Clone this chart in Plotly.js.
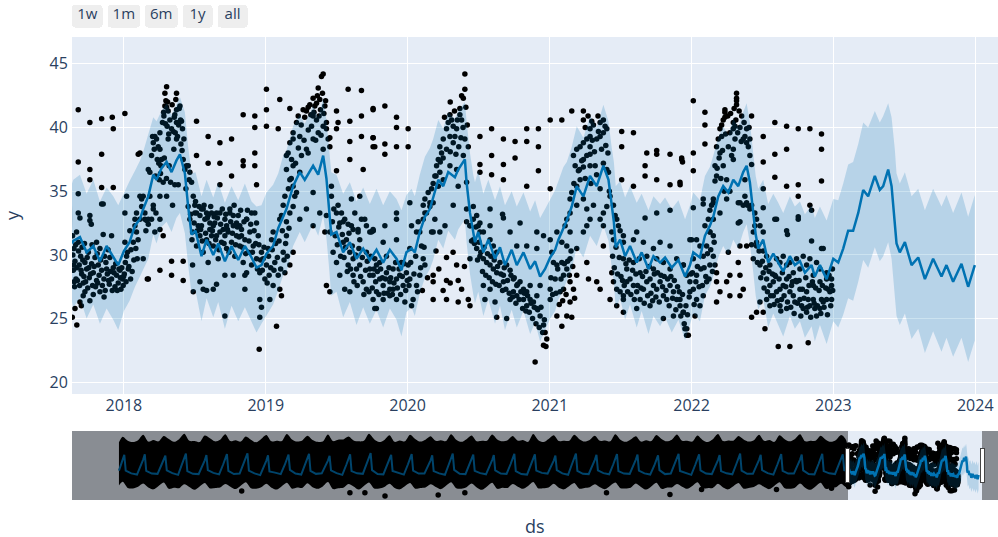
<!DOCTYPE html>
<html>
<head>
<meta charset="utf-8">
<script src="https://cdn.plot.ly/plotly-3.0.1.min.js"></script>
<style>html,body{margin:0;padding:0;background:#fff;}#chart{width:998px;height:537px;}</style>
</head>
<body>
<div id="chart"></div>
<script>
// ---------- DATA (time as decimal year) ----------
// Observations [t, y]
const obs_2017 = [[2017.678,41.4],[2017.760,40.4],[2017.843,40.7],[2017.918,40.8],[2017.925,39.9],[2017.678,37.3],[2017.760,36.7],[2017.760,35.9],[2017.678,34.8],[2017.843,37.9],[2017.843,35.3],[2017.925,35.3],[2017.678,33.3],[2017.760,33.1],[2017.760,32.7],[2017.854,34.0],
[2017.638,31.5],[2017.648,30.5],[2017.655,29.5],[2017.643,28.8],[2017.662,28.1],[2017.652,27.5],[2017.655,25.8],[2017.636,25.1],[2017.690,32.9],[2017.678,31.0],[2017.685,29.2],[2017.695,29.9],[2017.702,28.5],[2017.713,27.8],[2017.713,26.8],[2017.725,29.4],[2017.737,28.9],[2017.749,30.2],[2017.756,28.2],[2017.770,32.4],[2017.772,29.3],[2017.784,26.9],[2017.784,28.6],[2017.796,29.8],[2017.807,28.0],[2017.819,29.2],[2017.831,30.5],[2017.843,34.0],[2017.843,28.8],[2017.854,31.6],[2017.859,28.1],[2017.873,29.4],[2017.883,28.5],[2017.897,27.7],[2017.901,29.8],[2017.913,31.5],[2017.913,28.1],[2017.925,29.0],[2017.937,27.5],[2017.948,28.4],[2017.960,27.8],[2017.972,28.8],[2017.979,27.3],[2017.991,28.1],[2017.995,27.6],[2017.725,27.1],[2017.831,27.1],[2017.690,26.3],[2017.666,31.8],[2017.807,31.0],
[2017.640,30.0],[2017.645,29.2],[2017.650,27.9],[2017.660,30.8],[2017.668,29.0],[2017.672,28.0],[2017.680,30.3],[2017.688,27.6],[2017.698,28.8],[2017.705,30.6],[2017.710,29.6],[2017.718,28.3],[2017.722,30.9],[2017.730,27.9],[2017.741,29.8],[2017.745,27.4],[2017.752,29.0],[2017.765,28.5],[2017.775,30.8],[2017.779,27.6],[2017.790,29.1],[2017.800,27.5],[2017.812,30.1],[2017.815,27.8],[2017.825,28.4],[2017.836,29.6],[2017.848,27.6],[2017.863,29.9],[2017.868,27.2],[2017.878,28.9],[2017.888,30.4],[2017.892,28.0],[2017.906,28.7],[2017.918,27.2],[2017.930,28.6],[2017.942,29.3],[2017.953,27.2],[2017.965,28.9],[2017.975,28.2],[2017.985,29.0],[2017.998,28.3],[2017.700,26.0],[2017.760,26.4],[2017.860,26.7],[2017.668,24.5]];

const obs_2018 = [[2018.007,31.0],[2018.019,29.9],[2018.031,28.9],[2018.042,31.9],[2018.047,28.1],[2018.066,31.0],[2018.078,32.8],[2018.089,31.8],[2018.094,29.7],[2018.113,32.8],[2018.125,33.8],[2018.136,29.7],[2018.165,28.1],[2018.172,32.8],
[2018.003,28.5],[2018.010,29.4],[2018.015,27.9],[2018.025,30.2],[2018.035,29.1],[2018.050,30.4],[2018.058,28.7],[2018.070,29.6],[2018.084,30.5],[2018.100,31.2],
[2018.007,41.1],[2018.019,34.6],[2018.007,33.3],[2018.078,32.3],[2018.089,33.3],[2018.101,37.9],[2018.113,38.0],[2018.125,34.4],[2018.136,34.6],[2018.148,33.3],[2018.148,32.8],[2018.160,32.7],[2018.172,36.7],[2018.172,32.4],
[2018.183,36.5],[2018.195,37.8],[2018.202,39.3],[2018.207,38.8],[2018.207,33.9],[2018.214,38.3],[2018.218,39.3],[2018.226,33.3],[2018.230,39.1],[2018.235,37.5],[2018.242,38.5],[2018.249,35.9],[2018.254,38.3],[2018.254,39.6],[2018.254,32.8],[2018.261,37.0],[2018.265,37.5],[2018.272,40.4],[2018.277,35.7],[2018.277,31.5],[2018.282,40.9],[2018.289,42.7],[2018.289,41.7],[2018.296,42.1],[2018.301,43.2],[2018.301,41.6],[2018.305,40.1],[2018.312,41.3],[2018.312,39.1],[2018.319,37.0],[2018.324,40.6],[2018.329,35.7],[2018.336,39.9],[2018.343,33.9],[2018.348,39.7],[2018.352,38.3],[2018.359,35.5],[2018.359,41.0],[2018.366,42.2],[2018.371,42.7],[2018.371,41.4],[2018.371,40.4],[2018.371,39.1],[2018.378,39.3],[2018.383,35.5],[2018.390,41.5],[2018.395,41.7],[2018.399,40.6],[2018.406,40.5],[2018.413,39.9],[2018.418,37.5],[2018.423,39.1],[2018.430,36.7],[2018.437,35.2],[2018.441,37.0],[2018.453,37.0],[2018.460,35.9],[2018.465,36.5],
[2018.280,41.2],[2018.293,40.3],[2018.308,42.0],[2018.316,39.5],[2018.340,41.8],[2018.355,40.8],[2018.362,39.6],[2018.386,40.2],[2018.402,38.7],[2018.410,38.2],[2018.246,37.2],[2018.222,36.2],[2018.258,36.4],[2018.285,37.6],[2018.300,36.0],
[2018.113,34.6],[2018.155,31.9],[2018.183,34.6],[2018.195,32.8],[2018.218,31.8],[2018.254,34.6],[2018.301,34.6],[2018.207,33.6],[2018.254,32.0],[2018.254,28.8],[2018.336,29.5],[2018.336,28.4],[2018.172,28.1],[2018.418,29.5],[2018.418,28.0],
[2018.512,40.5],[2018.594,39.3],[2018.677,38.8],[2018.759,39.1],[2018.759,36.2],[2018.841,41.0],[2018.841,37.4],[2018.841,37.0],[2018.923,40.9],[2018.923,40.0],[2018.923,38.0],[2018.923,37.0],[2018.935,35.5],[2018.677,37.2],[2018.677,35.5],[2018.594,37.2],[2018.512,37.8],[2018.594,33.1],
[2018.477,35.7],[2018.489,34.6],[2018.500,33.9],[2018.512,33.3],[2018.536,33.1],[2018.559,33.6],[2018.583,33.3],[2018.606,32.5],[2018.630,32.3],[2018.653,33.3],[2018.677,31.8],[2018.724,32.3],[2018.747,33.3],[2018.771,33.1],[2018.794,32.5],[2018.817,32.3],[2018.865,32.8],[2018.900,33.3],[2018.935,32.5],[2018.547,32.3],[2018.618,31.5],[2018.712,31.5],[2018.829,31.5],
[2018.453,33.8],[2018.465,32.8],[2018.484,31.8],[2018.500,33.3],[2018.512,30.7],[2018.524,32.3],[2018.536,31.5],[2018.547,33.6],[2018.559,30.2],[2018.571,32.8],[2018.583,31.2],[2018.594,29.4],[2018.606,32.0],[2018.618,33.3],[2018.630,30.7],[2018.641,32.5],[2018.653,31.5],[2018.665,29.7],[2018.677,33.3],[2018.688,31.0],[2018.700,32.0],[2018.712,32.8],[2018.724,30.5],[2018.735,31.8],[2018.747,33.6],[2018.759,31.0],[2018.771,32.3],[2018.782,29.9],[2018.794,31.5],[2018.806,33.1],[2018.817,30.7],[2018.829,32.0],[2018.841,29.4],[2018.853,31.2],[2018.865,32.8],[2018.876,30.2],[2018.888,31.8],[2018.900,29.2],[2018.912,30.7],[2018.923,33.3],[2018.935,29.7],[2018.947,31.5],[2018.958,28.6],[2018.970,30.2],[2018.484,29.2],[2018.536,27.9],[2018.489,27.1],[2018.559,27.3],[2018.583,27.2],[2018.630,27.3],[2018.653,27.7],[2018.712,25.2],[2018.712,28.4],[2018.771,28.4],[2018.853,28.4],[2018.853,27.3],[2018.865,28.6],[2018.958,26.5],[2018.958,25.1],[2018.954,22.6],[2018.982,29.7],[2018.994,28.1],[2018.970,25.9],
[2018.470,33.2],[2018.480,31.2],[2018.495,32.5],[2018.505,34.2],[2018.518,31.9],[2018.530,33.8],[2018.541,32.0],[2018.552,31.1],[2018.565,33.9],[2018.576,31.7],[2018.588,32.9],[2018.600,30.9],[2018.612,33.8],[2018.624,31.9],[2018.636,33.0],[2018.647,31.2],[2018.659,32.9],[2018.670,30.4],[2018.682,32.4],[2018.694,33.6],[2018.706,30.9],[2018.718,33.2],[2018.730,32.0],[2018.741,30.2],[2018.753,32.6],[2018.765,31.7],[2018.777,33.9],[2018.788,30.8],[2018.800,32.2],[2018.812,31.4],[2018.823,33.5],[2018.835,30.6],[2018.847,32.6],[2018.859,30.1],[2018.871,33.5],[2018.882,31.1],[2018.894,32.4],[2018.906,30.2],[2018.918,31.9],[2018.929,30.9],[2018.941,28.9],[2018.952,30.8],[2018.964,29.6],[2018.976,28.8],[2018.988,30.6]];

const obs_2019 = [[2019.005,29.2],[2019.017,30.5],[2019.024,28.4],[2019.029,26.5],[2019.041,31.2],[2019.052,27.6],[2019.064,29.4],[2019.076,24.4],[2019.088,28.4],[2019.099,27.3],[2019.111,26.8],[2019.123,30.2],[2019.135,28.6],[2019.146,31.5],[2019.170,29.2],[2019.193,30.2],[2019.052,31.8],[2019.099,32.8],[2019.170,33.3],
[2019.010,27.8],[2019.020,29.9],[2019.035,29.0],[2019.046,30.4],[2019.058,28.8],[2019.070,30.9],[2019.082,29.8],[2019.094,31.1],[2019.105,28.9],[2019.117,31.9],[2019.129,29.6],[2019.140,30.9],[2019.152,29.9],[2019.164,32.1],
[2019.005,43.0],[2019.005,41.4],[2019.005,40.1],[2019.099,42.2],[2019.088,39.9],[2019.170,41.5],
[2019.111,33.1],[2019.123,33.9],[2019.135,34.6],[2019.146,32.6],[2019.146,36.7],[2019.146,37.8],[2019.158,38.0],[2019.170,35.9],[2019.170,38.8],[2019.182,37.5],[2019.193,35.4],[2019.193,37.0],[2019.193,39.1],[2019.193,39.6],[2019.205,34.6],[2019.217,34.9],[2019.217,40.4],[2019.229,40.9],[2019.240,36.5],[2019.240,39.3],[2019.252,37.8],[2019.264,41.4],[2019.275,40.8],[2019.287,41.3],[2019.287,38.3],[2019.299,41.6],[2019.299,38.0],[2019.311,41.8],[2019.323,40.1],[2019.334,42.3],[2019.334,40.9],[2019.334,39.1],[2019.334,34.9],[2019.346,41.7],[2019.358,41.9],[2019.358,40.6],[2019.370,43.1],[2019.370,39.6],[2019.381,42.2],[2019.386,41.4],[2019.393,44.0],[2019.400,42.7],[2019.405,44.2],[2019.405,40.1],[2019.405,38.3],[2019.417,41.7],[2019.428,40.4],[2019.428,39.9],[2019.440,39.1],[2019.452,39.2],[2019.452,38.5],
[2019.300,39.8],[2019.318,41.0],[2019.340,41.2],[2019.352,39.0],[2019.364,42.5],[2019.376,40.9],[2019.390,39.4],[2019.410,41.1],[2019.422,42.1],[2019.270,39.0],[2019.250,40.2],[2019.230,38.4],[2019.210,37.2],[2019.180,36.0],[2019.160,35.2],
[2019.193,33.8],[2019.240,32.8],[2019.287,33.6],[2019.334,32.3],[2019.381,33.3],[2019.417,31.8],
[2019.499,41.3],[2019.510,40.4],[2019.499,39.9],[2019.499,36.6],[2019.581,43.0],[2019.593,40.5],[2019.593,38.9],[2019.593,37.5],[2019.675,42.9],[2019.675,40.9],[2019.675,39.3],[2019.687,36.7],[2019.757,41.4],[2019.757,39.2],[2019.769,38.5],
[2019.463,35.4],[2019.463,34.6],[2019.510,33.9],[2019.534,33.3],[2019.546,32.6],[2019.581,32.4],[2019.604,32.3],[2019.616,32.0],[2019.651,31.8],[2019.675,32.8],[2019.710,32.3],[2019.757,31.9],[2019.604,34.4],[2019.663,34.6],
[2019.428,33.1],[2019.452,31.8],[2019.475,30.2],[2019.499,33.3],[2019.499,29.4],[2019.522,32.5],[2019.522,28.4],[2019.546,31.0],[2019.557,27.3],[2019.569,31.2],[2019.581,29.2],[2019.593,30.2],[2019.593,27.1],[2019.616,29.7],[2019.616,28.4],[2019.640,28.9],[2019.651,32.0],[2019.663,29.2],[2019.663,31.2],[2019.687,27.9],[2019.710,27.3],[2019.710,30.2],[2019.734,28.4],[2019.745,31.8],[2019.757,26.5],[2019.769,29.7],[2019.780,25.8],[2019.452,27.1],[2019.428,27.6],[2019.557,32.8],[2019.628,33.3],[2019.698,32.8],
[2019.470,32.6],[2019.480,33.6],[2019.490,31.5],[2019.505,30.8],[2019.515,32.2],[2019.528,29.9],[2019.540,31.6],[2019.552,29.8],[2019.563,30.6],[2019.575,28.7],[2019.587,31.7],[2019.598,28.9],[2019.610,30.7],[2019.622,27.9],[2019.634,30.0],[2019.645,27.6],[2019.657,30.5],[2019.669,28.3],[2019.681,29.8],[2019.692,26.9],[2019.704,28.8],[2019.716,29.5],[2019.728,27.1],[2019.740,29.9],[2019.751,27.4],[2019.763,28.9],[2019.775,27.9],[2019.787,28.7],[2019.798,26.9],[2019.810,28.9],[2019.822,28.2],[2019.834,27.0],[2019.845,28.1],[2019.857,27.0],[2019.869,29.0],[2019.881,28.2],[2019.893,26.9],[2019.904,27.8],[2019.916,29.4],[2019.928,27.4],[2019.940,28.9],[2019.951,26.9],[2019.963,28.3],[2019.975,29.3],[2019.987,27.2],[2019.998,28.0],
[2019.734,28.9],[2019.757,28.4],[2019.781,29.2],[2019.804,28.1],[2019.828,27.6],[2019.851,28.6],[2019.875,27.9],[2019.898,27.3],[2019.922,28.1],[2019.945,28.4],[2019.969,27.6],[2019.992,28.6],[2019.781,27.1],[2019.828,26.5],[2019.875,26.8],[2019.922,26.5],[2019.981,26.3],[2019.769,25.8],[2019.875,27.3],[2019.734,31.8],[2019.757,32.0],[2019.828,31.0],[2019.922,31.2],[2019.804,29.4],[2019.898,28.9],[2019.957,29.4],[2019.851,29.9],
[2019.757,41.5],[2019.840,41.7],[2019.922,40.8],[2019.922,40.0],[2019.757,39.2],[2019.757,38.5],[2019.840,38.7],[2019.840,37.9],[2019.922,38.5],[2019.922,33.3],[2019.922,32.8],[2019.840,32.3],[2019.757,31.9]];

const obs_2020 = [[2020.004,29.2],[2020.028,26.0],[2020.016,30.5],[2020.016,28.1],[2020.004,39.9],[2020.004,38.5],[2020.016,34.1],
[2020.028,32.3],[2020.063,31.8],[2020.098,30.7],[2020.110,29.7],[2020.122,29.2],[2020.086,28.4],[2020.063,27.6],[2020.039,26.5],[2020.122,33.3],[2020.157,33.8],[2020.180,34.1],[2020.192,32.8],[2020.180,31.8],[2020.180,28.4],[2020.180,27.9],[2020.180,26.5],[2020.274,29.8],[2020.274,28.0],[2020.274,26.5],[2020.345,29.2],[2020.356,28.0],[2020.356,26.3],[2020.427,26.5],[2020.439,26.0],[2020.439,29.7],[2020.439,32.3],[2020.450,31.1],
[2020.010,27.6],[2020.022,29.4],[2020.045,28.5],[2020.057,29.9],[2020.070,27.1],[2020.092,29.0],[2020.104,27.2],[2020.116,30.6],[2020.140,28.2],[2020.200,30.3],[2020.220,28.9],[2020.250,27.2],[2020.300,27.8],[2020.320,30.2],[2020.380,27.3],[2020.400,29.1],
[2020.403,44.2],[2020.403,43.0],[2020.380,42.5],[2020.392,42.3],[2020.368,41.5],[2020.368,41.0],[2020.298,41.0],[2020.310,40.6],[2020.321,40.1],[2020.345,39.9],[2020.380,40.6],[2020.274,39.9],[2020.286,40.4],[2020.298,39.3],[2020.321,38.8],[2020.403,39.1],[2020.427,38.5],[2020.251,39.1],[2020.227,38.5],[2020.239,38.0],[2020.216,37.5],[2020.204,37.0],[2020.227,36.5],[2020.251,35.9],[2020.298,37.0],[2020.345,36.7],[2020.356,35.4],[2020.392,37.8],[2020.216,35.4],[2020.169,35.2],[2020.145,34.9],[2020.122,34.4],[2020.110,33.9],[2020.133,33.3],[2020.110,32.8],[2020.075,32.6],[2020.086,31.8],[2020.169,31.8],[2020.227,31.8],[2020.263,32.3],[2020.321,33.9],[2020.415,35.7],[2020.415,33.6],[2020.415,32.6],[2020.439,32.3],[2020.462,32.8],[2020.497,32.3],[2020.509,31.8],[2020.274,38.3],[2020.333,39.3],[2020.192,36.2],[2020.157,34.1],
[2020.260,40.8],[2020.300,42.0],[2020.330,41.3],[2020.350,40.6],[2020.375,39.2],[2020.390,40.0],[2020.410,41.6],[2020.420,40.2],[2020.250,37.6],[2020.230,37.3],[2020.200,36.2],[2020.180,35.6],[2020.360,38.5],[2020.340,37.9],[2020.300,38.1],
[2020.509,39.3],[2020.591,39.9],[2020.674,39.1],[2020.756,38.9],[2020.838,39.9],[2020.920,39.9],[2020.838,38.9],[2020.920,38.5],[2020.591,37.8],[2020.674,37.1],[2020.756,37.6],[2020.509,37.1],[2020.509,36.5],[2020.591,36.3],[2020.674,35.9],[2020.838,35.4],[2020.920,36.6],[2020.580,33.6],[2020.674,32.9],
[2020.462,33.8],[2020.486,33.1],[2020.509,32.5],[2020.533,31.8],[2020.580,31.2],[2020.603,30.7],[2020.627,30.2],[2020.580,32.3],[2020.668,33.2],[2020.721,31.8],[2020.768,30.7],[2020.838,30.7],[2020.909,30.5],[2020.956,31.5],[2020.909,31.8],[2020.791,32.5],[2020.462,31.2],[2020.486,30.5],[2020.509,29.9],[2020.533,29.7],[2020.556,29.4],[2020.580,29.2],[2020.603,28.9],[2020.627,28.6],[2020.650,29.4],[2020.674,28.4],[2020.697,29.2],[2020.721,28.8],[2020.744,28.1],[2020.768,27.6],[2020.791,27.9],[2020.815,27.3],[2020.838,27.1],[2020.862,26.5],[2020.885,26.3],[2020.909,25.8],[2020.932,25.2],[2020.956,24.5],[2020.967,23.9],[2020.979,23.4],[2020.956,22.9],[2020.897,21.6],[2020.533,27.6],[2020.544,26.5],[2020.580,27.3],[2020.615,26.3],[2020.627,25.1],[2020.697,25.0],[2020.721,26.5],[2020.768,26.8],[2020.674,27.9],[2020.744,27.1],[2020.815,26.5],[2020.838,26.0],[2020.862,27.6],[2020.909,26.8],[2020.932,27.6],
[2020.470,30.9],[2020.480,32.2],[2020.492,29.6],[2020.503,31.0],[2020.515,30.2],[2020.527,28.7],[2020.538,30.6],[2020.550,28.4],[2020.562,30.1],[2020.574,28.2],[2020.586,29.9],[2020.597,27.9],[2020.609,29.6],[2020.621,27.7],[2020.633,29.1],[2020.644,27.6],[2020.656,28.5],[2020.668,27.2],[2020.680,29.0],[2020.691,27.3],[2020.703,28.0],[2020.715,27.0],[2020.727,28.4],[2020.738,26.7],[2020.750,28.2],[2020.762,26.2],[2020.774,27.7],[2020.785,26.5],[2020.797,27.1],[2020.809,25.8],[2020.821,27.0],[2020.832,25.6],[2020.844,26.8],[2020.856,25.5],[2020.868,26.2],[2020.879,25.0],[2020.891,25.9],[2020.903,24.6],[2020.915,25.7],[2020.926,24.3],[2020.938,25.9],[2020.950,23.9],[2020.962,24.9],[2020.973,22.8]];

const obs_2021 = [[2021.003,40.6],[2021.085,40.6],[2021.003,35.2],[2021.003,31.2],[2021.003,26.5],[2021.050,25.2],[2021.085,24.4],[2021.120,25.2],[2021.155,25.1],[2021.003,27.3],[2021.038,28.1],[2021.050,29.2],[2021.085,29.4],[2021.097,27.3],[2021.143,26.3],
[2021.014,30.2],[2021.026,29.4],[2021.073,27.1],[2021.097,28.4],[2021.120,28.9],[2021.143,27.9],[2021.167,27.3],[2021.190,28.4],[2021.143,29.7],[2021.120,30.7],[2021.085,31.0],[2021.050,31.8],[2021.190,30.5],[2021.237,31.8],[2021.261,29.4],[2021.284,32.8],[2021.331,27.9],[2021.355,27.3],[2021.273,28.1],[2021.378,30.7],[2021.355,32.8],[2021.402,33.8],
[2021.008,28.2],[2021.020,26.9],[2021.044,27.0],[2021.056,28.9],[2021.067,26.1],[2021.079,28.1],[2021.091,26.4],[2021.103,29.3],[2021.115,26.9],[2021.126,29.5],[2021.138,28.4],[2021.150,30.3],[2021.162,29.1],[2021.175,26.6],
[2021.155,41.3],[2021.237,41.3],[2021.237,40.6],[2021.296,40.5],[2021.308,40.2],[2021.355,40.4],[2021.378,40.6],[2021.390,40.1],[2021.378,39.6],[2021.402,39.9],[2021.355,39.3],[2021.331,39.1],[2021.284,39.3],[2021.261,39.1],[2021.284,38.5],[2021.237,38.8],[2021.214,38.5],[2021.261,37.8],[2021.284,37.9],[2021.237,37.5],[2021.190,38.3],[2021.167,37.8],[2021.179,37.0],[2021.202,36.6],[2021.237,36.9],[2021.284,37.0],[2021.320,37.0],[2021.378,37.2],[2021.402,36.7],[2021.414,36.5],[2021.214,35.9],[2021.190,35.4],[2021.155,34.9],[2021.143,34.4],[2021.190,33.9],[2021.143,33.3],[2021.120,32.8],[2021.108,32.3],[2021.143,31.8],[2021.237,34.4],[2021.261,33.6],[2021.308,33.9],[2021.355,35.2],[2021.378,33.3],[2021.425,34.6],[2021.449,33.9],[2021.461,33.1],[2021.472,32.8],[2021.484,32.3],[2021.496,31.9],[2021.519,31.5],[2021.261,32.3],[2021.378,32.3],[2021.437,31.8],[2021.284,39.9],[2021.343,39.7],
[2021.250,40.0],[2021.270,40.9],[2021.300,39.0],[2021.315,38.1],[2021.340,40.9],[2021.365,38.3],[2021.395,38.6],[2021.410,38.0],[2021.225,37.4],[2021.210,36.7],[2021.170,35.6],[2021.250,36.0],[2021.290,35.6],[2021.330,36.3],[2021.420,35.0],
[2021.507,39.7],[2021.590,39.6],[2021.684,38.0],[2021.754,38.2],[2021.754,37.9],[2021.848,37.9],[2021.930,37.5],[2021.936,37.3],[2021.507,38.5],[2021.672,37.0],[2021.672,36.2],[2021.754,35.9],[2021.848,35.5],[2021.919,35.5],[2021.590,35.4],[2021.507,35.9],[2021.754,33.3],[2021.848,33.5],[2021.672,32.9],
[2021.437,28.6],[2021.449,27.9],[2021.472,27.3],[2021.496,27.1],[2021.519,26.5],[2021.543,27.9],[2021.566,28.1],[2021.590,27.6],[2021.613,27.1],[2021.637,26.5],[2021.660,27.3],[2021.684,27.9],[2021.707,28.1],[2021.731,27.6],[2021.754,27.3],[2021.778,27.9],[2021.801,26.8],[2021.825,26.5],[2021.848,27.6],[2021.872,27.1],[2021.895,26.5],[2021.919,26.0],[2021.942,25.5],[2021.966,24.2],[2021.977,23.7],[2021.449,31.2],[2021.519,31.0],[2021.590,31.2],[2021.660,31.0],[2021.731,30.5],[2021.754,29.7],[2021.801,29.4],[2021.848,28.9],[2021.895,29.7],[2021.942,29.2],[2021.519,29.7],[2021.590,29.4],[2021.613,31.8],[2021.684,29.9],[2021.778,31.0],[2021.848,30.7],[2021.425,26.5],[2021.472,26.0],[2021.519,25.5],[2021.613,25.8],[2021.707,26.0],[2021.801,25.0],[2021.872,25.2],[2021.519,26.8],[2021.637,28.6],[2021.731,28.9],[2021.543,28.9],
[2021.443,29.9],[2021.455,29.0],[2021.467,30.6],[2021.478,28.5],[2021.490,29.8],[2021.502,28.3],[2021.513,28.0],[2021.525,27.6],[2021.537,29.3],[2021.549,27.1],[2021.560,29.6],[2021.572,26.9],[2021.584,28.8],[2021.596,26.5],[2021.607,28.5],[2021.619,27.6],[2021.631,29.7],[2021.643,27.4],[2021.654,28.3],[2021.666,26.2],[2021.678,28.7],[2021.690,26.8],[2021.701,29.1],[2021.713,27.0],[2021.725,26.4],[2021.737,28.5],[2021.748,26.7],[2021.760,28.6],[2021.772,26.3],[2021.784,28.4],[2021.795,27.5],[2021.807,28.3],[2021.819,27.2],[2021.831,28.1],[2021.842,26.0],[2021.854,28.3],[2021.866,26.6],[2021.878,28.0],[2021.889,25.7],[2021.901,27.5],[2021.913,27.1],[2021.924,25.2],[2021.936,26.9],[2021.948,24.6],[2021.960,26.0],[2021.971,25.3],[2021.983,26.7],[2021.995,28.5],
[2021.930,37.6],[2021.918,35.7],[2021.918,26.5],[2021.941,25.5],[2021.953,24.2],[2021.965,23.7],[2021.988,27.9],[2021.965,28.4],[2021.941,29.2],[2021.988,31.2],[2021.988,27.1]];

const obs_2022 = [[2022.012,27.3],[2022.035,26.5],[2022.059,26.0],[2022.082,26.8],[2022.106,27.9],[2022.129,29.2],[2022.153,29.9],[2022.035,28.4],[2022.012,29.7],[2022.082,29.9],[2022.059,30.7],[2022.106,30.7],[2022.129,31.8],[2022.153,32.8],[2022.000,31.2],[2022.082,34.4],[2022.024,25.2],
[2022.006,28.6],[2022.018,26.1],[2022.030,27.9],[2022.041,29.1],[2022.053,27.5],[2022.065,28.9],[2022.076,27.6],[2022.088,29.0],[2022.100,28.3],[2022.112,30.1],[2022.123,28.1],[2022.135,30.4],[2022.147,28.7],[2022.159,31.0],
[2022.165,29.2],[2022.176,28.6],[2022.176,27.9],[2022.176,26.3],[2022.200,27.1],[2022.247,27.9],[2022.259,30.2],[2022.270,28.4],[2022.270,26.8],[2022.341,28.4],[2022.329,29.4],[2022.341,26.8],[2022.364,27.3],[2022.341,30.7],[2022.388,30.7],[2022.423,30.8],[2022.458,31.0],[2022.435,31.8],[2022.446,32.3],
[2022.341,34.1],[2022.388,34.1],[2022.411,33.6],[2022.329,32.5],[2022.247,34.4],[2022.200,33.3],[2022.153,34.1],[2022.035,31.2],
[2022.317,42.7],[2022.317,42.3],[2022.317,42.1],[2022.317,41.8],[2022.235,41.4],[2022.235,41.2],[2022.223,40.6],[2022.212,40.2],[2022.200,39.9],[2022.212,39.3],[2022.188,39.1],[2022.176,38.5],[2022.200,38.0],[2022.294,40.4],[2022.306,40.1],[2022.294,39.9],[2022.306,39.1],[2022.294,38.3],[2022.282,37.8],[2022.294,37.5],[2022.341,40.0],[2022.364,39.1],[2022.388,38.8],[2022.400,38.5],[2022.411,39.1],[2022.376,39.3],[2022.353,40.9],[2022.388,39.9],[2022.423,40.9],[2022.411,37.8],[2022.423,37.1],[2022.165,37.0],[2022.176,36.2],[2022.165,35.8],[2022.153,34.4],[2022.141,33.9],[2022.129,33.5],[2022.118,32.8],[2022.094,32.3],[2022.129,31.8],[2022.153,31.5],[2022.247,35.9],[2022.270,35.0],[2022.329,34.1],[2022.376,34.6],[2022.394,33.9],[2022.423,33.9],[2022.446,33.3],[2022.458,32.8],[2022.482,32.3],[2022.505,31.8],[2022.341,32.6],[2022.364,33.9],[2022.376,35.9],[2022.012,42.1],[2022.094,41.2],[2022.094,40.2],[2022.094,38.7],[2022.012,38.0],[2022.012,36.6],[2022.012,33.7],[2022.082,34.0],[2022.235,40.8],[2022.270,39.6],[2022.259,38.5],[2022.223,37.0],
[2022.240,39.5],[2022.255,40.9],[2022.275,41.1],[2022.300,41.5],[2022.312,40.6],[2022.325,39.6],[2022.335,41.3],[2022.350,38.9],[2022.370,40.4],[2022.405,40.0],[2022.218,38.2],[2022.194,37.6],[2022.180,36.8],[2022.206,36.0],[2022.230,35.0],
[2022.587,40.4],[2022.670,40.1],[2022.752,39.9],[2022.834,39.9],[2022.916,39.5],[2022.505,39.3],[2022.587,37.9],[2022.670,38.3],[2022.916,38.3],[2022.505,37.3],[2022.587,36.1],[2022.670,35.4],[2022.752,35.5],[2022.752,34.6],[2022.916,35.8],[2022.505,35.2],[2022.834,33.9],[2022.846,33.5],[2022.752,32.8],[2022.587,32.8],[2022.670,31.9],[2022.505,33.7],
[2022.458,30.7],[2022.435,29.7],[2022.482,29.2],[2022.505,28.6],[2022.529,28.1],[2022.552,27.6],[2022.576,27.9],[2022.599,27.1],[2022.623,27.3],[2022.646,27.6],[2022.670,28.1],[2022.693,27.1],[2022.717,26.8],[2022.740,27.9],[2022.764,26.5],[2022.787,25.8],[2022.811,25.5],[2022.834,26.0],[2022.858,26.5],[2022.881,25.2],[2022.905,25.8],[2022.928,26.3],[2022.952,26.5],[2022.975,27.1],[2022.987,28.1],[2022.529,26.5],[2022.552,26.0],[2022.623,26.0],[2022.670,25.8],[2022.576,26.8],[2022.505,25.5],[2022.482,26.3],[2022.423,25.1],[2022.458,25.5],[2022.517,24.2],[2022.611,22.8],[2022.693,22.8],[2022.822,23.1],[2022.764,27.3],[2022.811,27.1],[2022.858,27.6],[2022.905,27.9],[2022.952,28.1],[2022.623,29.4],[2022.670,29.2],[2022.717,28.6],[2022.764,28.9],[2022.811,29.2],[2022.858,28.4],[2022.905,28.9],[2022.952,28.6],[2022.552,29.2],[2022.599,29.7],[2022.646,29.9],[2022.693,29.4],[2022.740,29.7],[2022.787,29.9],[2022.834,29.7],[2022.881,29.4],[2022.928,30.5],[2022.599,32.8],[2022.676,31.6],[2022.752,33.0],[2022.846,31.1],[2022.916,30.5],[2022.529,29.9],[2022.505,30.3],[2022.728,26.3],[2022.776,26.0],[2022.822,26.5],[2022.869,25.8],[2022.916,26.5],[2022.963,27.3],[2022.987,27.6],[2022.987,26.5],[2022.705,27.6],[2022.587,28.4],[2022.634,26.5],
[2022.464,29.4],[2022.476,30.3],[2022.488,28.2],[2022.499,29.5],[2022.511,27.4],[2022.523,29.0],[2022.535,27.1],[2022.546,28.7],[2022.558,26.8],[2022.570,28.5],[2022.582,26.1],[2022.593,28.3],[2022.605,26.4],[2022.617,28.1],[2022.629,25.6],[2022.640,28.6],[2022.652,26.8],[2022.664,27.5],[2022.676,26.3],[2022.687,28.3],[2022.699,25.9],[2022.711,27.9],[2022.723,25.4],[2022.734,28.0],[2022.746,26.2],[2022.758,28.0],[2022.770,25.2],[2022.781,27.3],[2022.793,26.6],[2022.805,28.2],[2022.817,25.9],[2022.828,27.6],[2022.840,25.1],[2022.852,27.9],[2022.864,26.2],[2022.875,27.4],[2022.887,26.0],[2022.899,27.2],[2022.911,25.4],[2022.922,27.6],[2022.934,25.9],[2022.946,27.4],[2022.958,25.3],[2022.969,28.4],[2022.981,26.0],[2022.993,28.9],[2022.995,27.2]];

// isolated low observations before 2017 (seen in the range slider)
const obs_hist_low = [[1988.10,22.7],[1993.37,22.0],[1994.10,22.0],[1995.08,20.7],[1997.67,21.1],[1998.97,22.0],[2005.87,22.0],[2008.96,21.3],[2010.50,23.3],[2014.15,23.3],[2016.83,23.9]];

// spread of the observations 1982-2017 (only visible in the range slider): [t, low, high]
const obs_hist_range = [[1982.12,25.0,42.5],[1982.30,26.5,44.8],[1982.55,24.0,43.2],[1982.80,23.8,42.6],
[1983.05,24.5,43.4],[1983.30,25.8,45.6],[1983.55,24.2,42.8],[1983.80,23.4,43.5],
[1984.05,24.8,42.9],[1984.30,26.2,45.1],[1984.55,23.6,43.9],[1984.80,24.1,42.7],
[1985.05,23.9,43.8],[1985.30,25.5,46.0],[1985.55,24.4,43.1],[1985.80,23.2,43.0],
[1986.05,24.6,42.6],[1986.30,26.0,45.3],[1986.55,23.8,44.2],[1986.80,24.0,42.9],
[1987.05,24.2,43.6],[1987.30,25.6,45.8],[1987.55,24.5,43.0],[1987.80,23.5,43.4],
[1988.05,24.9,42.8],[1988.30,26.3,44.9],[1988.55,23.9,43.6],[1988.80,23.7,42.5],
[1989.05,24.3,43.9],[1989.30,25.7,45.5],[1989.55,24.1,42.9],[1989.80,23.3,43.2],
[1990.05,24.7,43.0],[1990.30,26.1,45.9],[1990.55,23.7,43.7],[1990.80,24.2,42.8],
[1991.05,24.0,43.3],[1991.30,25.9,45.2],[1991.55,24.3,43.5],[1991.80,23.6,42.7],
[1992.05,24.6,42.8],[1992.30,26.4,45.7],[1992.55,23.5,43.0],[1992.80,23.9,43.6],
[1993.05,24.1,43.7],[1993.30,25.6,44.9],[1993.55,24.6,43.3],[1993.80,23.3,42.9],
[1994.05,24.8,43.1],[1994.30,26.2,46.0],[1994.55,23.8,43.8],[1994.80,23.8,42.6],
[1995.05,24.4,43.5],[1995.30,25.7,45.4],[1995.55,24.0,42.7],[1995.80,23.4,43.3],
[1996.05,24.7,42.9],[1996.30,26.0,45.6],[1996.55,23.7,43.9],[1996.80,24.0,42.8],
[1997.05,24.2,43.6],[1997.30,25.5,45.0],[1997.55,24.4,43.1],[1997.80,23.5,43.4],
[1998.05,24.9,43.0],[1998.30,26.3,45.8],[1998.55,23.9,43.6],[1998.80,23.7,42.7],
[1999.05,24.3,43.8],[1999.30,25.8,45.3],[1999.55,24.2,42.9],[1999.80,23.2,43.1],
[2000.05,24.6,43.2],[2000.30,26.1,45.7],[2000.55,23.6,43.7],[2000.80,24.1,42.9],
[2001.05,24.0,43.4],[2001.30,25.6,45.1],[2001.55,24.5,43.2],[2001.80,23.6,43.5],
[2002.05,24.8,42.7],[2002.30,26.4,45.9],[2002.55,23.8,43.4],[2002.80,23.9,42.6],
[2003.05,24.2,43.9],[2003.30,25.7,45.4],[2003.55,24.1,43.0],[2003.80,23.4,43.2],
[2004.05,24.7,43.1],[2004.30,26.0,45.6],[2004.55,23.7,43.8],[2004.80,24.0,42.8],
[2005.05,24.3,43.5],[2005.30,25.5,45.2],[2005.55,24.3,43.1],[2005.80,23.5,43.3],
[2006.05,24.9,42.9],[2006.30,26.2,45.8],[2006.55,23.9,43.6],[2006.80,23.8,42.7],
[2007.05,24.1,43.7],[2007.30,25.8,45.0],[2007.55,24.4,42.8],[2007.80,23.3,43.4],
[2008.05,24.6,43.0],[2008.30,26.1,45.5],[2008.55,23.6,43.9],[2008.80,24.1,42.9],
[2009.05,24.2,43.6],[2009.30,25.6,45.7],[2009.55,24.5,43.2],[2009.80,23.6,43.1],
[2010.05,24.8,42.8],[2010.30,26.3,45.3],[2010.55,23.8,43.5],[2010.80,23.9,42.6],
[2011.05,24.0,43.8],[2011.30,25.7,45.9],[2011.55,24.2,43.0],[2011.80,23.4,43.3],
[2012.05,24.7,43.2],[2012.30,26.0,45.1],[2012.55,23.7,43.7],[2012.80,24.0,42.8],
[2013.05,24.4,43.4],[2013.30,25.5,45.6],[2013.55,24.4,43.1],[2013.80,23.5,43.5],
[2014.05,24.9,42.7],[2014.30,26.3,45.4],[2014.55,23.9,43.8],[2014.80,23.7,42.9],
[2015.05,24.1,43.9],[2015.30,25.8,45.8],[2015.55,24.1,42.9],[2015.80,23.2,43.2],
[2016.05,24.6,43.1],[2016.30,26.1,45.2],[2016.55,23.6,43.6],[2016.80,24.0,42.7],
[2017.05,24.3,43.5],[2017.30,25.7,45.5],[2017.55,24.4,43.3]];

// model prediction before the main window [t, yhat]
const pred_hist = [[1982.12,31.0],[1982.21,33.4],[1982.30,35.6],[1982.38,37.4],[1982.45,31.0],[1982.72,29.9],
[1983.00,29.4],[1983.20,33.2],[1983.30,35.5],[1983.38,37.6],[1983.45,30.9],[1983.72,29.8],
[1984.00,29.7],[1984.20,33.5],[1984.30,35.3],[1984.38,37.1],[1984.45,31.1],[1984.72,30.0],
[1985.00,29.3],[1985.20,33.8],[1985.30,35.9],[1985.38,37.9],[1985.45,30.8],[1985.72,29.7],
[1986.00,29.6],[1986.20,33.1],[1986.30,35.2],[1986.38,37.3],[1986.45,31.2],[1986.72,30.1],
[1987.00,29.5],[1987.20,33.6],[1987.30,35.7],[1987.38,37.7],[1987.45,30.9],[1987.72,29.6],
[1988.00,29.8],[1988.20,33.9],[1988.30,36.0],[1988.38,38.0],[1988.45,31.0],[1988.72,29.9],
[1989.00,29.2],[1989.20,33.0],[1989.30,35.1],[1989.38,37.2],[1989.45,30.7],[1989.72,30.2],
[1990.00,29.6],[1990.20,33.4],[1990.30,35.5],[1990.38,37.5],[1990.45,31.3],[1990.72,29.8],
[1991.00,29.4],[1991.20,33.7],[1991.30,35.8],[1991.38,37.8],[1991.45,30.9],[1991.72,29.7],
[1992.00,29.9],[1992.20,33.2],[1992.30,35.1],[1992.38,37.0],[1992.45,31.1],[1992.72,30.0],
[1993.00,29.3],[1993.20,33.5],[1993.30,35.6],[1993.38,37.6],[1993.45,30.8],[1993.72,29.9],
[1994.00,29.7],[1994.20,34.0],[1994.30,36.1],[1994.38,38.1],[1994.45,31.2],[1994.72,29.6],
[1995.00,29.5],[1995.20,33.3],[1995.30,35.4],[1995.38,37.4],[1995.45,30.9],[1995.72,30.1],
[1996.00,29.4],[1996.20,33.6],[1996.30,35.7],[1996.38,37.7],[1996.45,31.0],[1996.72,29.8],
[1997.00,29.8],[1997.20,33.1],[1997.30,35.2],[1997.38,37.2],[1997.45,30.8],[1997.72,29.9],
[1998.00,29.3],[1998.20,33.8],[1998.30,35.9],[1998.38,37.9],[1998.45,31.3],[1998.72,29.7],
[1999.00,29.6],[1999.20,33.4],[1999.30,35.5],[1999.38,37.5],[1999.45,30.9],[1999.72,30.0],
[2000.00,29.5],[2000.20,33.2],[2000.30,35.3],[2000.38,37.3],[2000.45,31.1],[2000.72,29.8],
[2001.00,29.7],[2001.20,33.7],[2001.30,35.8],[2001.38,37.8],[2001.45,30.8],[2001.72,29.6],
[2002.00,29.4],[2002.20,33.5],[2002.30,35.6],[2002.38,37.6],[2002.45,31.0],[2002.72,30.1],
[2003.00,29.8],[2003.20,33.0],[2003.30,35.1],[2003.38,37.1],[2003.45,31.2],[2003.72,29.9],
[2004.00,29.3],[2004.20,33.9],[2004.30,35.9],[2004.38,37.9],[2004.45,30.9],[2004.72,29.7],
[2005.00,29.6],[2005.20,33.3],[2005.30,35.4],[2005.38,37.4],[2005.45,31.1],[2005.72,30.0],
[2006.00,29.5],[2006.20,33.6],[2006.30,35.7],[2006.38,37.7],[2006.45,30.8],[2006.72,29.8],
[2007.00,29.7],[2007.20,33.4],[2007.30,35.5],[2007.38,37.5],[2007.45,31.0],[2007.72,29.9],
[2008.00,29.4],[2008.20,33.1],[2008.30,35.2],[2008.38,37.2],[2008.45,31.2],[2008.72,29.6],
[2009.00,29.8],[2009.20,33.7],[2009.30,35.8],[2009.38,37.8],[2009.45,30.9],[2009.72,30.1],
[2010.00,29.3],[2010.20,33.5],[2010.30,35.6],[2010.38,37.6],[2010.45,31.1],[2010.72,29.8],
[2011.00,29.6],[2011.20,33.2],[2011.30,35.3],[2011.38,37.3],[2011.45,30.8],[2011.72,29.9],
[2012.00,29.5],[2012.20,33.8],[2012.30,35.9],[2012.38,37.9],[2012.45,31.0],[2012.72,29.7],
[2013.00,29.7],[2013.20,33.3],[2013.30,35.4],[2013.38,37.4],[2013.45,31.2],[2013.72,30.0],
[2014.00,29.4],[2014.20,33.6],[2014.30,35.7],[2014.38,37.7],[2014.45,30.9],[2014.72,29.8],
[2015.00,29.8],[2015.20,33.4],[2015.30,35.5],[2015.38,37.5],[2015.45,31.1],[2015.72,29.6],
[2016.00,29.5],[2016.20,33.7],[2016.30,35.8],[2016.38,37.8],[2016.45,30.8],[2016.72,29.9],
[2017.00,29.6],[2017.20,33.5],[2017.30,35.6],[2017.38,37.6],[2017.45,31.2],[2017.634,30.9]];

// forecast rows [t, yhat, yhat_lower, yhat_upper]
const fc_2017 = [[2017.634,30.9,26.3,35.6],[2017.643,31.1,25.9,35.9],[2017.690,31.4,26.6,36.3],[2017.737,30.2,25.0,34.8],[2017.784,30.7,26.1,35.9],[2017.831,29.5,24.6,34.2],[2017.878,30.7,25.8,35.3],[2017.925,29.9,24.9,34.6],[2017.960,29.2,24.1,33.9]];
const fc_2018 = [[2018.000,30.3,25.6,34.9],[2018.040,31.0,26.4,35.8],[2018.078,32.3,27.5,36.6],[2018.113,32.8,28.3,37.4],[2018.136,33.6,28.8,38.1],[2018.172,34.6,29.7,39.4],[2018.207,36.3,31.6,40.8],[2018.230,35.9,30.9,40.5],[2018.265,36.8,32.2,41.3],[2018.301,37.3,32.6,41.9],[2018.336,36.5,31.8,41.0],[2018.370,37.4,32.9,41.8],[2018.395,37.9,33.3,42.4],[2018.430,36.4,31.7,41.2],[2018.453,33.8,29.2,38.5],[2018.477,31.6,26.9,36.4],[2018.505,31.9,27.2,36.5],[2018.547,29.9,24.8,34.6],[2018.583,31.2,26.6,35.9],[2018.630,30.0,25.1,34.5],[2018.665,30.9,26.3,35.7],[2018.712,29.5,24.2,34.1],[2018.759,30.7,26.0,35.4],[2018.806,29.6,24.8,34.3],[2018.853,30.7,25.9,35.6],[2018.900,29.8,24.7,34.2],[2018.935,29.0,23.9,33.8],[2018.970,29.2,24.6,33.9]];
const fc_2019 = [[2019.005,30.1,25.2,34.9],[2019.052,30.7,26.1,35.5],[2019.088,32.1,27.2,36.4],[2019.123,33.1,28.4,37.8],[2019.146,33.6,28.6,38.2],[2019.193,35.4,30.7,40.1],[2019.240,36.5,31.8,41.0],[2019.275,35.9,31.0,40.3],[2019.334,37.0,32.4,41.7],[2019.370,36.3,31.5,40.8],[2019.405,37.8,33.1,42.3],[2019.428,36.0,31.3,40.6],[2019.445,34.0,29.2,38.8],[2019.462,31.6,26.8,36.5],[2019.499,31.8,27.1,36.3],[2019.546,30.2,25.1,34.8],[2019.593,31.0,26.3,35.7],[2019.640,29.7,24.5,34.2],[2019.687,30.5,25.9,35.3],[2019.734,29.6,24.6,34.0],[2019.781,30.4,25.7,35.2],[2019.828,29.4,24.3,33.9],[2019.875,30.4,25.8,35.0],[2019.922,29.7,24.9,34.4],[2019.957,28.8,23.6,33.5],[2019.992,30.2,25.5,34.7]];
const fc_2020 = [[2020.028,30.5,25.9,35.2],[2020.051,30.2,25.2,34.6],[2020.086,31.8,27.0,36.3],[2020.122,33.0,28.2,37.7],[2020.157,33.6,28.9,38.4],[2020.180,34.5,29.6,39.1],[2020.216,35.9,31.2,40.6],[2020.251,35.4,30.5,39.9],[2020.286,36.5,31.9,41.2],[2020.333,36.1,31.2,40.7],[2020.356,36.7,32.0,41.3],[2020.403,37.5,32.8,42.0],[2020.415,35.7,31.0,40.5],[2020.439,33.3,28.5,38.0],[2020.462,31.6,26.9,36.3],[2020.474,31.0,26.2,35.7],[2020.497,31.8,27.1,36.6],[2020.533,30.2,25.2,34.8],[2020.568,31.2,26.5,35.9],[2020.615,29.7,24.6,34.3],[2020.650,30.6,26.0,35.4],[2020.685,29.2,24.1,33.9],[2020.732,30.4,25.7,35.0],[2020.768,29.2,24.3,33.8],[2020.815,30.2,25.6,34.9],[2020.862,28.9,23.8,33.4],[2020.897,29.5,24.7,34.3],[2020.932,28.3,23.2,32.9],[2020.967,28.9,24.1,33.6]];
const fc_2021 = [[2021.003,29.8,25.0,34.4],[2021.038,30.4,25.6,35.1],[2021.061,31.2,26.5,35.8],[2021.096,32.1,27.3,36.9],[2021.120,32.7,28.0,37.3],[2021.155,33.8,28.9,38.5],[2021.190,35.4,30.6,40.1],[2021.237,34.6,29.8,39.2],[2021.284,36.2,31.5,40.9],[2021.331,35.4,30.7,40.0],[2021.378,37.0,32.3,41.8],[2021.414,35.9,31.1,40.5],[2021.437,33.8,29.0,38.4],[2021.452,32.6,27.9,37.3],[2021.465,30.6,25.8,35.4],[2021.496,31.2,26.6,35.8],[2021.531,29.9,24.9,34.5],[2021.566,30.7,26.1,35.4],[2021.613,29.4,24.3,34.1],[2021.648,30.2,25.6,34.8],[2021.696,28.9,23.8,33.5],[2021.731,29.9,25.2,34.6],[2021.778,29.4,24.4,34.0],[2021.813,29.8,25.1,34.5],[2021.860,29.0,23.9,33.6],[2021.907,29.6,24.9,34.3],[2021.954,28.3,23.3,32.8],[2021.989,29.2,24.5,33.9]];
const fc_2022 = [[2022.012,30.2,25.4,34.9],[2022.059,29.8,24.8,34.3],[2022.094,31.5,26.8,36.2],[2022.129,32.3,27.5,36.9],[2022.153,33.0,28.3,37.8],[2022.188,34.6,29.8,39.2],[2022.223,35.4,30.7,40.1],[2022.259,34.9,30.0,39.4],[2022.294,35.9,31.2,40.7],[2022.329,35.4,30.5,40.0],[2022.364,36.5,31.8,41.2],[2022.388,37.0,32.4,41.9],[2022.411,35.7,30.9,40.4],[2022.435,33.3,28.6,38.0],[2022.452,31.6,26.8,36.2],[2022.470,30.5,25.7,35.2],[2022.505,31.2,26.5,35.9],[2022.540,29.4,24.3,34.0],[2022.576,30.1,25.4,34.8],[2022.611,29.4,24.5,34.1],[2022.646,28.7,23.6,33.3],[2022.693,29.9,25.2,34.6],[2022.728,29.2,24.2,33.8],[2022.764,29.5,24.8,34.2],[2022.799,28.6,23.5,33.2],[2022.846,29.2,24.4,33.9],[2022.869,28.3,23.2,32.9],[2022.905,29.2,24.5,33.8],[2022.952,28.1,23.0,32.7],[2022.999,29.7,24.8,34.4]];
const fc_2023 = [[2023.034,29.4,24.3,34.3],[2023.069,30.5,25.3,35.6],[2023.104,31.9,26.6,37.1],[2023.139,31.9,26.4,37.3],[2023.175,33.3,27.9,38.7],[2023.210,35.1,29.6,40.4],[2023.245,34.6,29.0,40.0],[2023.292,36.2,30.6,41.3],[2023.327,35.1,29.5,40.4],[2023.351,35.4,29.9,40.9],[2023.386,36.7,31.0,41.9],[2023.410,35.4,29.7,40.8],[2023.433,32.8,27.1,38.3],[2023.445,30.9,25.2,36.4],[2023.468,30.2,24.5,35.6],[2023.504,31.0,25.4,36.5],[2023.551,29.2,23.4,34.6],[2023.598,29.8,24.2,35.2],[2023.645,28.1,22.3,33.5],[2023.703,29.7,24.0,35.2],[2023.762,28.3,22.4,33.8],[2023.797,29.2,23.5,34.7],[2023.844,27.9,22.0,33.3],[2023.903,29.3,23.5,34.9],[2023.950,27.5,21.6,33.0],[2023.997,29.2,23.3,34.7]];

const rangeButtons = ['1w','1m','6m','1y','all'];
const xTitle = 'ds';
const yTitle = 'y';

// ---------- helpers ----------
function toDate(t){
  const y = Math.floor(t);
  const a = Date.UTC(y,0,1), b = Date.UTC(y+1,0,1);
  return new Date(a + (t - y) * (b - a)).toISOString().slice(0,19).replace('T',' ');
}
const obsAll = [].concat(obs_hist_low, obs_2017, obs_2018, obs_2019, obs_2020, obs_2021, obs_2022);
const fcAll = [].concat(fc_2017, fc_2018, fc_2019, fc_2020, fc_2021, fc_2022, fc_2023);
const envRev = obs_hist_range.slice().reverse();

const predColor = '#0072B2';
const errColor = 'rgba(0, 114, 178, 0.2)';

const traces = [
  { // spread of early observations
    x: obs_hist_range.map(r=>toDate(r[0])).concat(envRev.map(r=>toDate(r[0]))),
    y: obs_hist_range.map(r=>r[2]).concat(envRev.map(r=>r[1])),
    mode:'lines', fill:'toself', fillcolor:'black', line:{width:0, color:'black', shape:'spline', smoothing:0.8},
    hoverinfo:'skip', name:'Actual (range)'
  },
  {
    name:'Actual', x: obsAll.map(r=>toDate(r[0])), y: obsAll.map(r=>r[1]),
    mode:'markers', marker:{color:'black', size:5.5}
  },
  {
    name:'Predicted (history)', x: pred_hist.map(r=>toDate(r[0])), y: pred_hist.map(r=>r[1]),
    mode:'lines', line:{color:predColor, width:2}
  },
  {
    x: fcAll.map(r=>toDate(r[0])), y: fcAll.map(r=>r[2]),
    mode:'lines', line:{width:0}, hoverinfo:'skip', name:'yhat_lower'
  },
  {
    name:'Predicted', x: fcAll.map(r=>toDate(r[0])), y: fcAll.map(r=>r[1]),
    mode:'lines', line:{color:predColor, width:2.5}, fillcolor:errColor, fill:'tonexty'
  },
  {
    x: fcAll.map(r=>toDate(r[0])), y: fcAll.map(r=>r[3]),
    mode:'lines', line:{width:0}, fillcolor:errColor, fill:'tonexty', hoverinfo:'skip', name:'yhat_upper'
  }
];

const layout = {
  width: 998, height: 537,
  margin: {l:72, r:0, t:37, b:37},
  paper_bgcolor: 'white',
  plot_bgcolor: '#E5ECF6',
  font: {family:'"Open Sans", verdana, arial, sans-serif', size:16, color:'#2a3f5f'},
  showlegend: false,
  xaxis: {
    type:'date',
    range:[toDate(2017.634), toDate(2024.16)],
    gridcolor:'white', linecolor:'white', zeroline:false, automargin:false,
    tickfont:{size:16}, ticklabelstandoff:-3,
    rangeselector:{
      buttons:[
        {count:7, label:rangeButtons[0], step:'day', stepmode:'backward'},
        {count:1, label:rangeButtons[1], step:'month', stepmode:'backward'},
        {count:6, label:rangeButtons[2], step:'month', stepmode:'backward'},
        {count:1, label:rangeButtons[3], step:'year', stepmode:'backward'},
        {step:'all', label:rangeButtons[4]}
      ],
      font:{size:15, color:'#2a3f5f'}, bgcolor:'#eeeeee'
    },
    rangeslider:{
      visible:true, autorange:false,
      range:[toDate(1979.834), toDate(2024.94)],
      thickness:0.148, bgcolor:'#E5ECF6', borderwidth:0,
      yaxis:{rangemode:'fixed', range:[19.08,47.11]}
    }
  },
  yaxis: {
    range:[19.08,47.11], dtick:5, tick0:0,
    gridcolor:'white', linecolor:'white', zeroline:false, automargin:false,
    tickfont:{size:16},
    title:{text:yTitle, font:{size:18}, standoff:26}
  },
  annotations: [{
    text: xTitle, xref:'paper', yref:'paper', x:0.5, y:-0.369,
    yanchor:'middle', xanchor:'center', showarrow:false,
    font:{size:18, color:'#2a3f5f'}
  }]
};

Plotly.newPlot('chart', traces, layout, {displayModeBar:false});
</script>
</body>
</html>
